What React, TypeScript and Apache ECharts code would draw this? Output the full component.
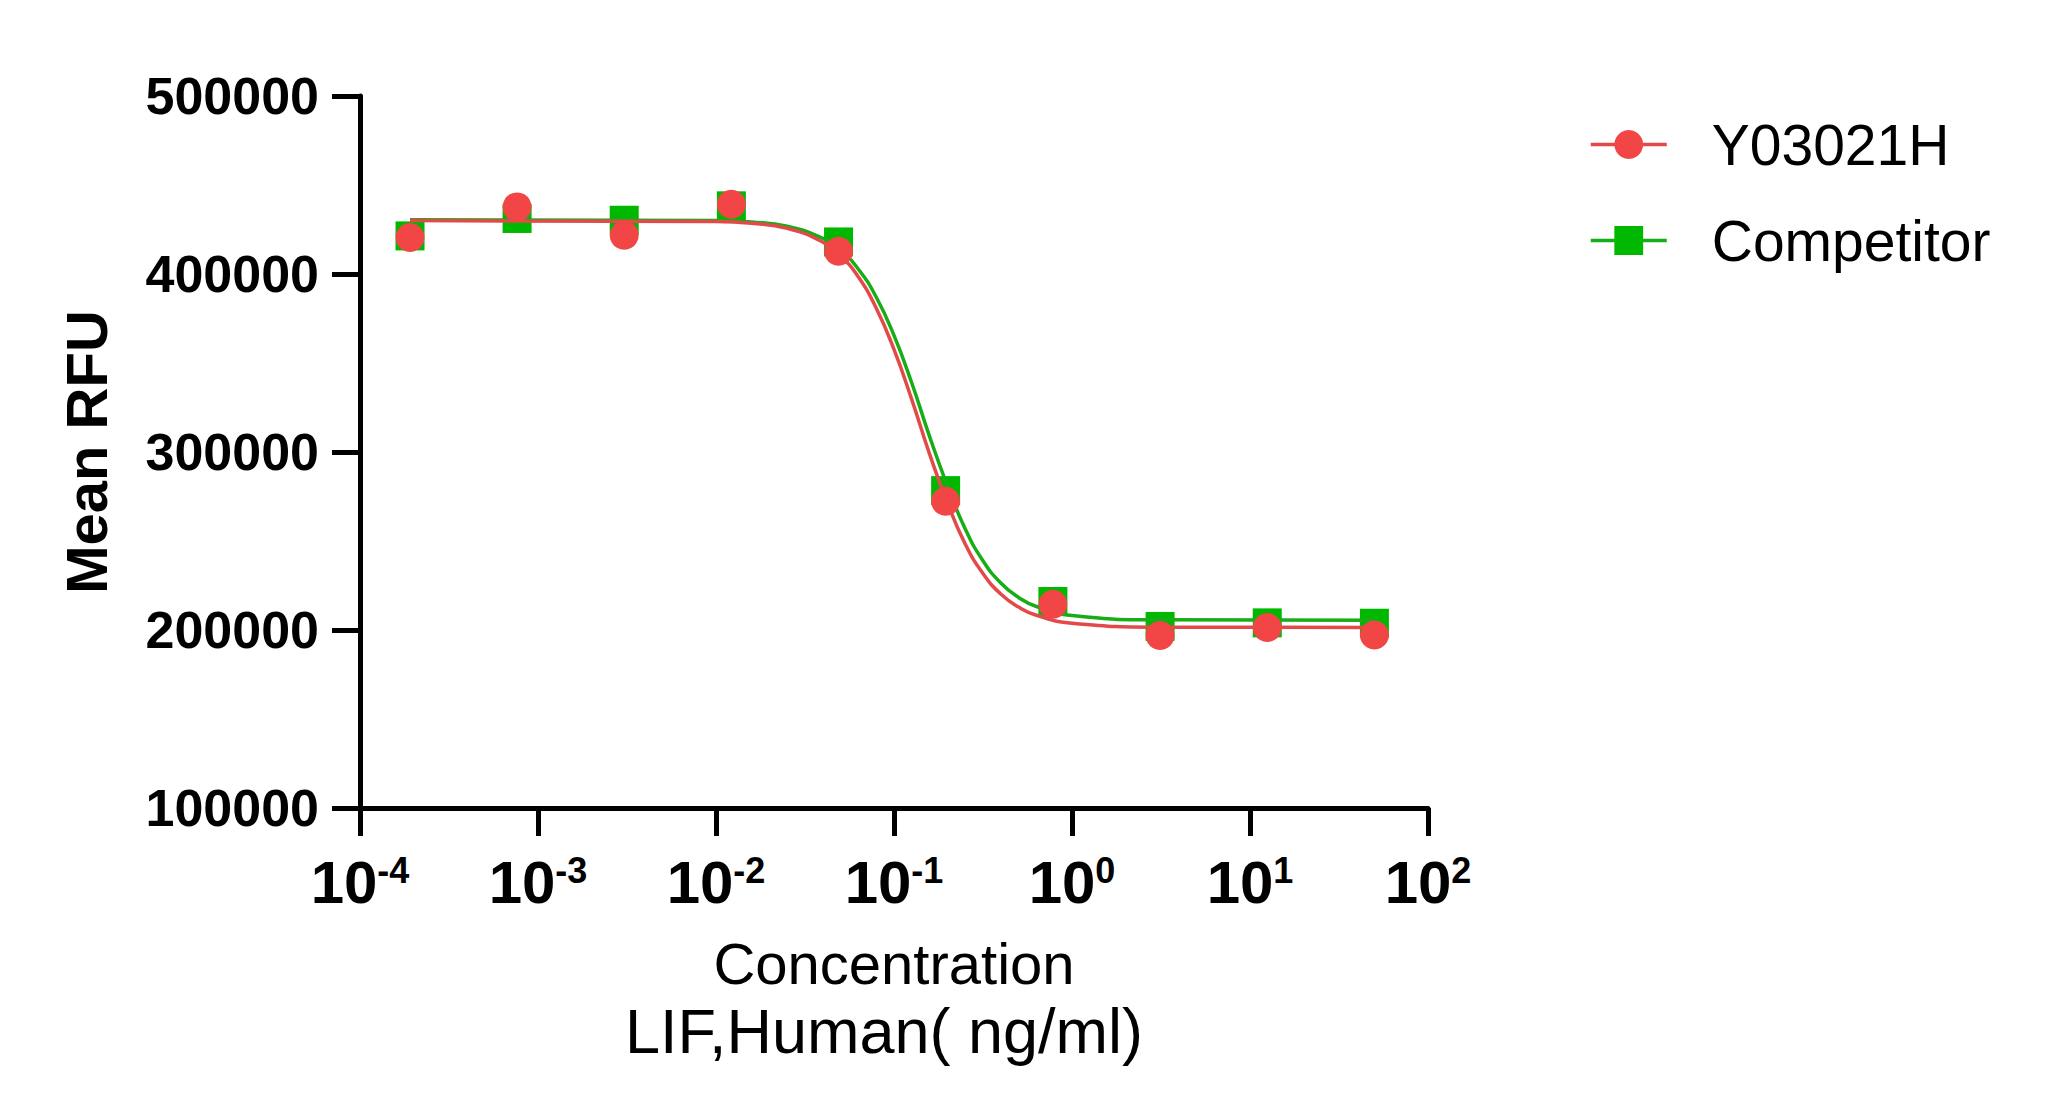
import React, { useEffect, useRef } from "react";
import * as echarts from "echarts";

// measured points (4-fold dilution, ng/ml)
const concentrations = [0.000191, 0.000763, 0.00305, 0.0122, 0.0488, 0.195, 0.781, 3.125, 12.5, 50];
const y03021hValues = [420500, 437700, 421800, 439200, 412800, 272300, 214500, 196900, 201400, 197200];
const competitorValues = [421400, 431200, 430200, 438300, 418000, 278300, 216000, 202000, 204000, 203800];

// fitted curves
const fitConcentrations = [
  0.000191, 0.01, 0.0158, 0.0251, 0.0398, 0.0501, 0.0631, 0.0794, 0.1, 0.126, 0.158, 0.2, 0.251, 0.316,
  0.398, 0.501, 0.631, 1, 3.16, 50,
];
const y03021hFit = [
  430000, 429500, 428500, 425700, 417900, 410200, 398300, 380900, 357600, 329300, 299200, 271200, 248400,
  231700, 220200, 212900, 208300, 203800, 201600, 201400,
];
const competitorFit = [
  430500, 430000, 429200, 426800, 420000, 413300, 402700, 387100, 365500, 338600, 309100, 280700, 256900,
  238900, 226400, 218300, 213200, 208200, 205700, 205500,
];

const seriesNames = ["Y03021H", "Competitor"];
const xTickExponents = [-4, -3, -2, -1, 0, 1, 2];
const yTicks = [100000, 200000, 300000, 400000, 500000];

const RED = "#F24646";
const RED_LINE = "#E24A4A";
const GREEN = "#00B800";
const GREEN_LINE = "#17AD17";
const FONT = "'Liberation Sans', Arial, sans-serif";
const NARROW = "'Liberation Sans Narrow', 'Arial Narrow', 'Liberation Sans', sans-serif";

const pairs = (xs: number[], ys: number[]) => xs.map((x, i) => [x, ys[i]]);

const App = () => {
  const chartRef = useRef<HTMLDivElement | null>(null);

  useEffect(() => {
    if (!chartRef.current) return;
    const myChart = echarts.init(chartRef.current, null, { renderer: "svg" });

    const option = {
      animation: false,
      backgroundColor: "#fff",
      grid: { left: 360, top: 96, width: 1068, height: 712, containLabel: false },
      legend: {
        orient: "vertical",
        left: 1584,
        top: 111,
        itemWidth: 76,
        itemHeight: 36,
        itemGap: 39,
        textStyle: { fontFamily: FONT, fontSize: 57, color: "#000", padding: [0, 0, 0, 40] },
        data: [
          { name: seriesNames[0], lineStyle: { width: 3.5, opacity: 1, color: RED_LINE } },
          { name: seriesNames[1], lineStyle: { width: 3.5, opacity: 1, color: GREEN_LINE } },
        ],
      },
      xAxis: {
        type: "log",
        logBase: 10,
        min: 1e-4,
        max: 100,
        splitLine: { show: false },
        minorTick: { show: false },
        axisLine: { show: true, lineStyle: { color: "#000", width: 5 } },
        axisTick: { show: true, inside: false, length: 28, lineStyle: { color: "#000", width: 5 } },
        axisLabel: {
          margin: 44,
          formatter: (v: number) => {
            const e = Math.round(Math.log10(v));
            return xTickExponents.includes(e) ? `{b|10}{s|${e}}` : "";
          },
          rich: {
            b: { fontFamily: NARROW, fontWeight: "bold", fontSize: 60, lineHeight: 60, color: "#000" },
            s: {
              fontFamily: NARROW,
              fontWeight: "bold",
              fontSize: 36,
              lineHeight: 36,
              verticalAlign: "top",
              color: "#000",
            },
          },
        },
      },
      yAxis: {
        type: "value",
        min: yTicks[0],
        max: yTicks[yTicks.length - 1],
        interval: 100000,
        splitLine: { show: false },
        axisLine: { show: true, lineStyle: { color: "#000", width: 5 } },
        axisTick: { show: true, inside: false, length: 28, lineStyle: { color: "#000", width: 5 } },
        axisLabel: {
          margin: 41,
          fontFamily: FONT,
          fontWeight: "bold",
          fontSize: 52,
          color: "#000",
          formatter: (v: number) => String(v),
        },
      },
      graphic: [
        {
          type: "text",
          x: 86,
          y: 452,
          rotation: Math.PI / 2,
          style: {
            text: "Mean RFU",
            fontFamily: FONT,
            fontWeight: "bold",
            fontSize: 58,
            fill: "#000",
            textAlign: "center",
            textVerticalAlign: "middle",
          },
        },
        {
          type: "text",
          x: 894,
          y: 963,
          style: {
            text: "Concentration",
            fontFamily: FONT,
            fontSize: 58,
            fill: "#000",
            textAlign: "center",
            textVerticalAlign: "middle",
          },
        },
        {
          type: "text",
          x: 884,
          y: 1031,
          style: {
            text: "LIF,Human( ng/ml)",
            fontFamily: FONT,
            fontSize: 63,
            fill: "#000",
            textAlign: "center",
            textVerticalAlign: "middle",
          },
        },
      ],
      series: [
        {
          name: seriesNames[1],
          type: "line",
          data: pairs(concentrations, competitorValues),
          symbol: "rect",
          symbolSize: 29,
          showSymbol: true,
          lineStyle: { width: 0, opacity: 0, color: GREEN_LINE },
          itemStyle: { color: GREEN },
          z: 2,
        },
        {
          name: "Competitor fit",
          type: "line",
          data: pairs(fitConcentrations, competitorFit),
          symbol: "none",
          smooth: 0.5,
          lineStyle: { width: 3.5, color: GREEN_LINE },
          itemStyle: { color: GREEN_LINE },
          z: 3,
        },
        {
          name: "Y03021H fit",
          type: "line",
          data: pairs(fitConcentrations, y03021hFit),
          symbol: "none",
          smooth: 0.5,
          lineStyle: { width: 3.5, color: RED_LINE },
          itemStyle: { color: RED_LINE },
          z: 4,
        },
        {
          name: seriesNames[0],
          type: "line",
          data: pairs(concentrations, y03021hValues),
          symbol: "circle",
          symbolSize: 29,
          showSymbol: true,
          lineStyle: { width: 0, opacity: 0, color: RED_LINE },
          itemStyle: { color: RED },
          z: 5,
        },
      ],
    };

    myChart.setOption(option);
    return () => {
      myChart.dispose();
    };
  }, []);

  return (
    <div
      ref={chartRef}
      style={{ position: "fixed", left: 0, top: 0, width: "2048px", height: "1114px" }}
    ></div>
  );
};

export default App;
